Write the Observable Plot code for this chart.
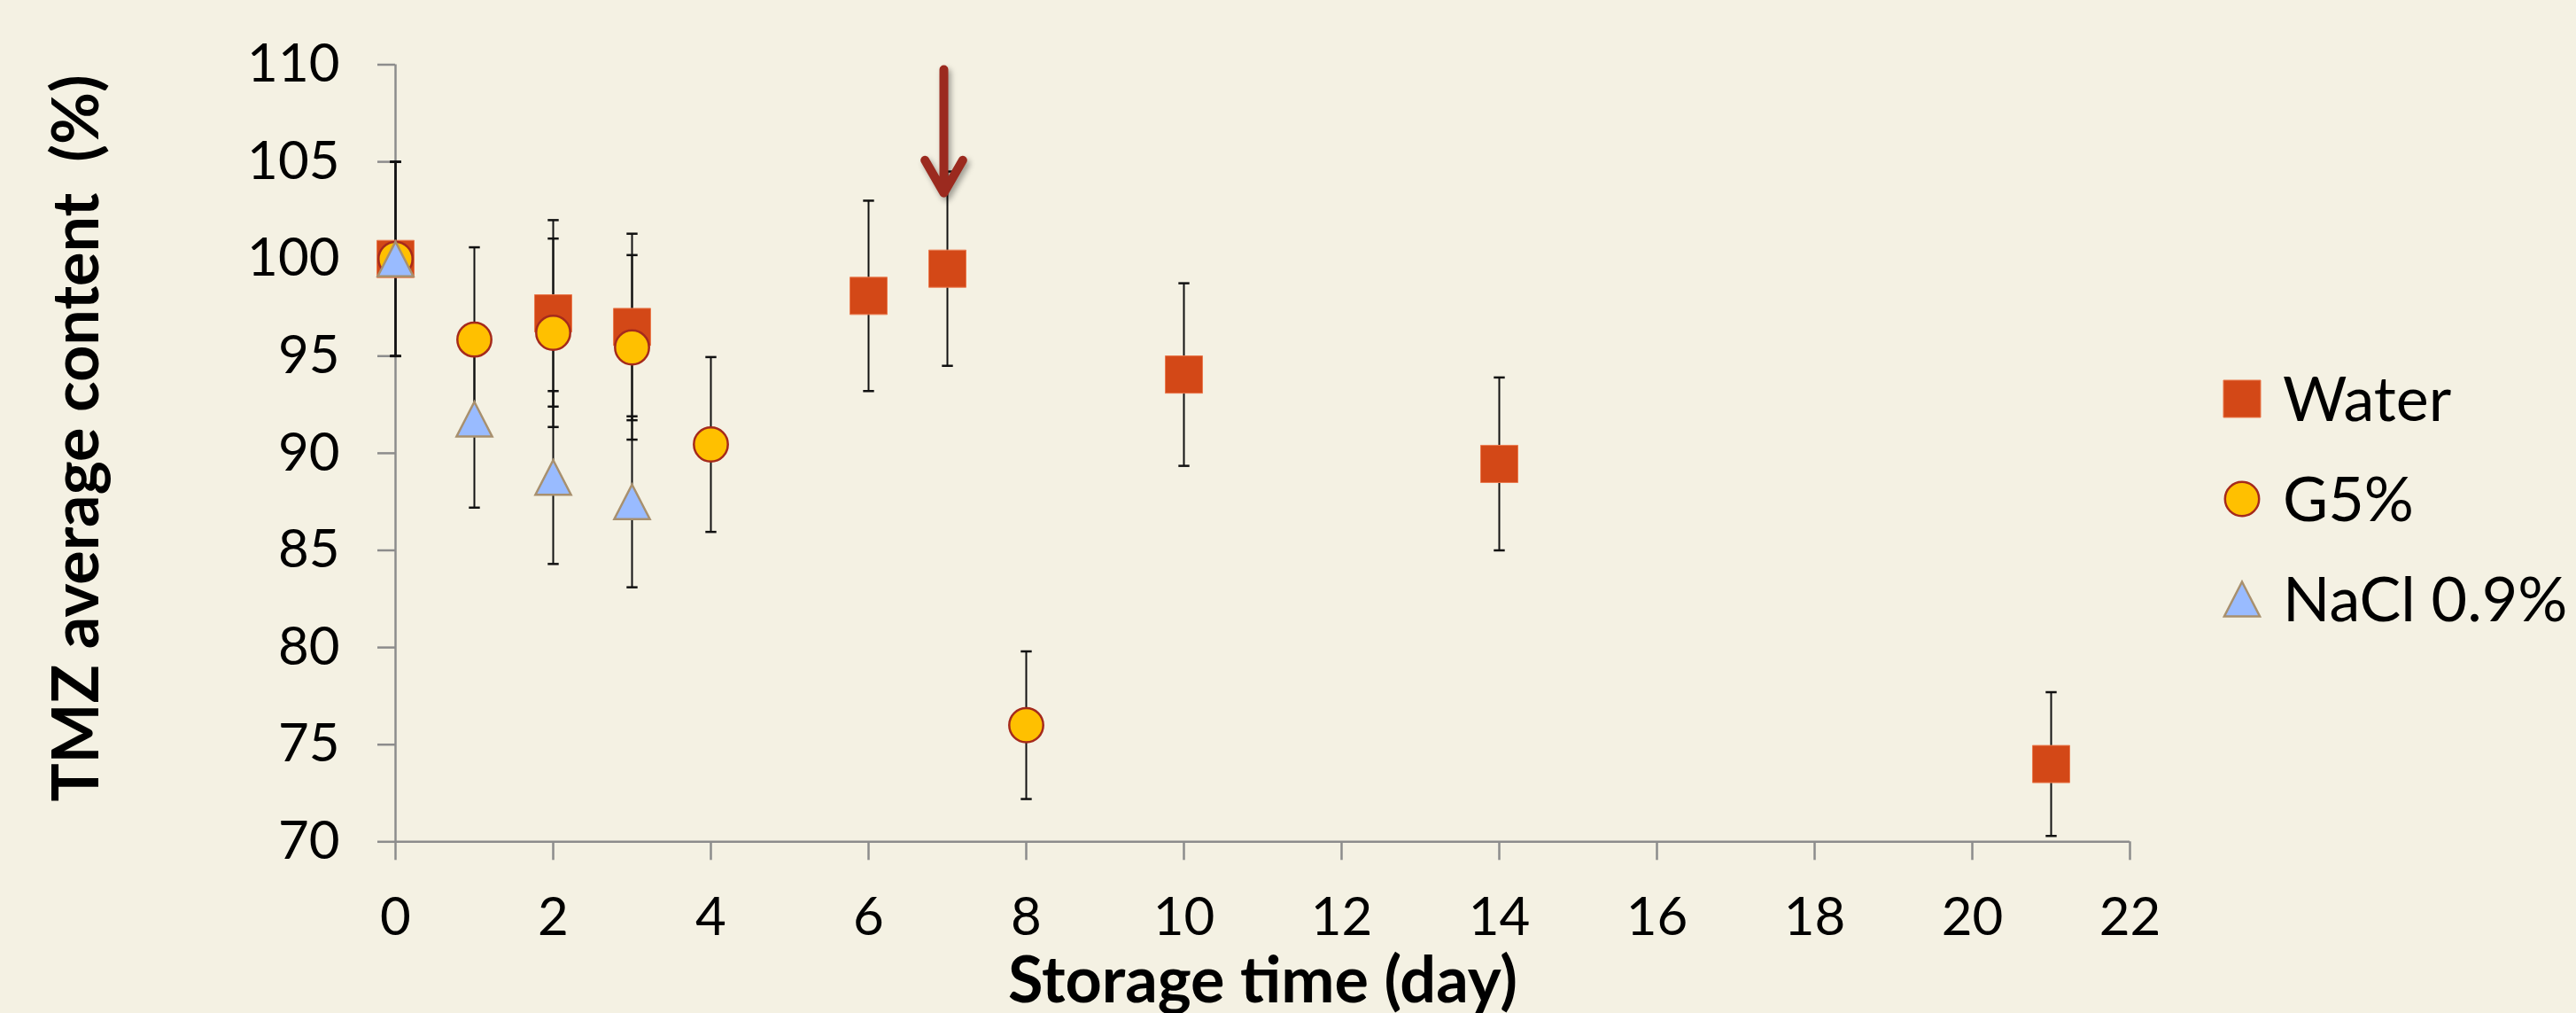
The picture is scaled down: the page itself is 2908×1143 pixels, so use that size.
<!DOCTYPE html>
<html>
<head>
<meta charset="utf-8">
<script src="https://cdn.jsdelivr.net/npm/d3@7"></script>
<script src="https://cdn.jsdelivr.net/npm/@observablehq/plot@0.6"></script>
<style>
  html, body { margin: 0; padding: 0; background: #F4F1E3; }
  #wrap { position: relative; width: 2908px; height: 1143px; overflow: hidden; background: #F4F1E3; font-family: Lato, "Open Sans", sans-serif; }
  #wrap svg { position: absolute; left: 0; top: 0; }
</style>
</head>
<body>
<div id="wrap"></div>
<script>
// ---------- data ----------
const seriesNames = ["Water", "G5%", "NaCl 0.9%"];

const waterDays = [0, 2, 3, 6, 7, 10, 14, 21];
const waterMean = [100, 97.2, 96.5, 98.1, 99.5, 94.05, 89.45, 74.0];
const waterErr  = [5.0, 4.8, 4.8, 4.9, 5.0, 4.7, 4.45, 3.7];

const g5Days = [0, 1, 2, 3, 4, 8];
const g5Mean = [100, 95.85, 96.2, 95.45, 90.45, 76.0];
const g5Err  = [5.0, 4.75, 4.85, 4.75, 4.5, 3.8];

const naclDays = [0, 1, 2, 3];
const naclMean = [100, 91.75, 88.75, 87.5];
const naclErr  = [5.0, 4.55, 4.45, 4.4];

const xTicks = [0, 2, 4, 6, 8, 10, 12, 14, 16, 18, 20, 22];
const yTicks = [70, 75, 80, 85, 90, 95, 100, 105, 110];

const arrowDay = [7];
const arrowFrom = [109.75];
const arrowTo = [103.4];

const xTitle = "Storage time (day)";
const yTitle = "TMZ average content \u00A0(%)";

// ---------- build tables ----------
function rows(days, mean, err, name) {
  return days.map((d, i) => ({day: d, mean: mean[i], err: err[i], series: name}));
}
const waterRows = rows(waterDays, waterMean, waterErr, seriesNames[0]);
const g5Rows = rows(g5Days, g5Mean, g5Err, seriesNames[1]);
const naclRows = rows(naclDays, naclMean, naclErr, seriesNames[2]);
const allRows = [...waterRows, ...g5Rows, ...naclRows];
const arrowRows = arrowDay.map((d, i) => ({day: d, from: arrowFrom[i], to: arrowTo[i]}));

// ---------- symbols & styles ----------
const triSymbol = {
  draw(ctx, size) {
    const r = Math.sqrt(size / Math.PI);
    const w = r * 1.03;
    ctx.moveTo(0, -r);
    ctx.lineTo(w, r);
    ctx.lineTo(-w, r);
    ctx.closePath();
  }
};
const capSymbol = {
  draw(ctx, size) {
    const r = Math.sqrt(size / Math.PI);
    ctx.moveTo(-r, 0);
    ctx.lineTo(r, 0);
  }
};

const styles = {
  "Water":     {symbol: "square", r: 23.7, fill: "#D34817", stroke: "#EA7A4E", strokeWidth: 1},
  "G5%":       {symbol: "circle", r: 19.2, fill: "#FFC000", stroke: "#A52A1C", strokeWidth: 2.5},
  "NaCl 0.9%": {symbol: triSymbol, r: 19.5, fill: "#99BBFF", stroke: "#A8906E", strokeWidth: 2.5}
};
const axisGray = "#8C8C8C";
const fontFamily = "Lato, 'Open Sans', sans-serif";

function markerDots(data, name) {
  const s = styles[name];
  return Plot.dot(data, {x: "day", y: "mean", symbol: s.symbol, r: s.r, fill: s.fill, stroke: s.stroke, strokeWidth: s.strokeWidth});
}

// ---------- chart ----------
const chart = Plot.plot({
  width: 2908,
  height: 1143,
  marginLeft: 446,
  marginRight: 504,
  marginTop: 72.5,
  marginBottom: 193.7,
  style: {background: "transparent", fontFamily, fontSize: "60px", overflow: "visible"},
  x: {domain: [0, 22]},
  y: {domain: [70, 110]},
  marks: [
    Plot.axisY(yTicks, {tickSize: 20, tickPadding: 43, stroke: axisGray, strokeWidth: 2.5, fill: "#000", fontSize: 60, label: null}),
    Plot.axisX(xTicks, {tickSize: 21, tickPadding: 42, stroke: axisGray, strokeWidth: 2.5, fill: "#000", fontSize: 60, label: null}),
    Plot.ruleX([0], {stroke: axisGray, strokeWidth: 2.5}),
    Plot.ruleY([70], {stroke: axisGray, strokeWidth: 2.5}),
    // error bars
    Plot.ruleX(allRows, {x: "day", y1: d => d.mean - d.err, y2: d => d.mean + d.err, stroke: "#111", strokeWidth: 2}),
    Plot.dot(allRows, {x: "day", y: d => d.mean + d.err, symbol: capSymbol, r: 6.2, fill: "none", stroke: "#111", strokeWidth: 2.5}),
    Plot.dot(allRows, {x: "day", y: d => d.mean - d.err, symbol: capSymbol, r: 6.2, fill: "none", stroke: "#111", strokeWidth: 2.5}),
    // markers
    markerDots(waterRows, "Water"),
    markerDots(g5Rows, "G5%"),
    markerDots(naclRows, "NaCl 0.9%"),
    // annotation arrow
    Plot.arrow(arrowRows, {x: "day", y1: "from", y2: "to", stroke: "#9B2A1F", strokeWidth: 10, headLength: 6.4, headAngle: 60, dx: -4}),
    // axis titles
    Plot.text([xTitle], {text: d => d, frameAnchor: "bottom", textAnchor: "middle", lineAnchor: "middle", dy: 158, fontSize: 72, fontWeight: "bold", fill: "#000", fontFamily}),
    Plot.text([yTitle], {text: d => d, frameAnchor: "left", textAnchor: "middle", lineAnchor: "middle", dx: -359, dy: -17, rotate: -90, fontSize: 72, fontWeight: "bold", fill: "#000", fontFamily})
  ]
});
document.getElementById("wrap").appendChild(chart);
d3.select(chart).selectAll('g[aria-label="arrow"]').style("filter", "drop-shadow(3px 4px 3px rgba(0,0,0,0.35))");

// ---------- legend ----------
const legend = d3.select("#wrap").append("svg")
  .attr("width", 408).attr("height", 360)
  .style("left", "2500px").style("top", "393px");
const rowH = 113, cy0 = 57, symX = 31, textX = 77;
seriesNames.forEach((name, i) => {
  const s = styles[name];
  const cy = cy0 + i * rowH;
  const sym = typeof s.symbol === "string" ? (s.symbol === "square" ? d3.symbolSquare : d3.symbolCircle) : s.symbol;
  legend.append("path")
    .attr("transform", `translate(${symX},${cy})`)
    .attr("d", d3.symbol(sym, Math.PI * s.r * s.r)())
    .attr("fill", s.fill).attr("stroke", s.stroke).attr("stroke-width", s.strokeWidth);
  legend.append("text")
    .attr("x", textX).attr("y", cy + 25)
    .attr("font-family", fontFamily).attr("font-size", 70)
    .attr("fill", "#000")
    .text(name);
});
</script>
</body>
</html>
